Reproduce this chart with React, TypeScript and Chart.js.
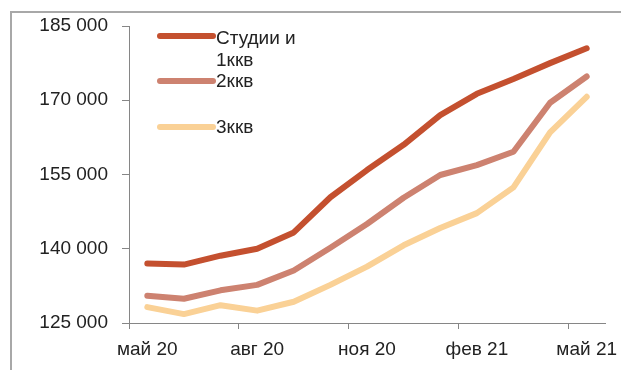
import React, { useEffect, useRef } from "react";
import { Chart, registerables } from "chart.js";

Chart.register(...registerables);

const months = [
  "май 20", "июн 20", "июл 20", "авг 20", "сен 20", "окт 20", "ноя 20",
  "дек 20", "янв 21", "фев 21", "мар 21", "апр 21", "май 21",
];

const studio1k = [137000, 136800, 138600, 140000, 143300, 150400, 155900, 161000, 167000, 171300, 174300, 177500, 180500];
const twoRoom = [130500, 129900, 131600, 132700, 135600, 140200, 145000, 150300, 154900, 156900, 159600, 169500, 174800];
const threeRoom = [128200, 126800, 128600, 127500, 129300, 132700, 136400, 140700, 144200, 147200, 152400, 163500, 170700];

const seriesNames = ["Студии и 1ккв", "2ккв", "3ккв"];
const legendLines = [["Студии и", "1ккв"], ["2ккв"], ["3ккв"]];
const seriesColors = ["#C4502F", "#CD8270", "#FAD196"];

const yMin = 125000;
const yMax = 185000;
const yStep = 15000;

const FONT = "'Liberation Sans', Arial, sans-serif";
const AXIS = "#868686";
const TEXT = "#222222";

const fmt = (v: number) => String(v).replace(/\B(?=(\d{3})+(?!\d))/g, " ");

const legendPlugin = {
  id: "customLegend",
  afterDraw(chart: any) {
    const ctx = chart.ctx;
    const lineY = [36, 81, 127];
    const textY = [[39, 61], [82], [128]];
    ctx.save();
    ctx.font = `19px ${FONT}`;
    ctx.fillStyle = TEXT;
    ctx.textBaseline = "middle";
    ctx.textAlign = "left";
    chart.data.datasets.forEach((ds: any, i: number) => {
      ctx.strokeStyle = ds.borderColor;
      ctx.lineWidth = 6;
      ctx.lineCap = "round";
      ctx.beginPath();
      ctx.moveTo(160, lineY[i]);
      ctx.lineTo(213, lineY[i]);
      ctx.stroke();
      legendLines[i].forEach((t, j) => {
        ctx.fillText(t, 216, textY[i][j]);
      });
    });
    ctx.restore();
  },
};

export default function App() {
  const ref = useRef<HTMLCanvasElement | null>(null);

  useEffect(() => {
    if (!ref.current) return;
    const data = [studio1k, twoRoom, threeRoom];
    const chart = new Chart(ref.current, {
      type: "line",
      data: {
        labels: months,
        datasets: data.map((d, i) => ({
          label: seriesNames[i],
          data: d,
          borderColor: seriesColors[i],
          backgroundColor: seriesColors[i],
          borderWidth: 6,
          pointRadius: 0,
          tension: 0,
          borderCapStyle: "round" as const,
          borderJoinStyle: "round" as const,
          fill: false,
        })),
      },
      options: {
        animation: false,
        responsive: false,
        devicePixelRatio: 1,
        layout: { padding: { top: 26, right: 16, left: 0, bottom: 0 } },
        plugins: {
          legend: { display: false },
          tooltip: { enabled: false },
        },
        scales: {
          x: {
            type: "category",
            offset: true,
            grid: {
              offset: true,
              drawOnChartArea: false,
              drawTicks: true,
              tickLength: 6,
              color: (c: any) => (c.index % 3 === 0 ? AXIS : "rgba(0,0,0,0)"),
            },
            border: { color: AXIS, width: 1 },
            ticks: {
              autoSkip: false,
              maxRotation: 0,
              minRotation: 0,
              padding: 9,
              color: TEXT,
              font: { size: 19, family: FONT },
              callback: (_v: any, i: number) => (i % 3 === 0 ? months[i] : ""),
            },
            afterFit: (s: any) => {
              s.height = 47;
              s.paddingLeft = 0;
              s.paddingRight = 0;
            },
          },
          y: {
            min: yMin,
            max: yMax,
            grid: {
              drawOnChartArea: false,
              drawTicks: true,
              tickLength: 7,
              color: AXIS,
            },
            border: { color: AXIS, width: 1 },
            ticks: {
              stepSize: yStep,
              padding: 14,
              color: TEXT,
              font: { size: 19, family: FONT },
              callback: (v: any) => fmt(Number(v)),
            },
            afterFit: (s: any) => {
              s.width = 129;
              s.paddingTop = 0;
              s.paddingBottom = 0;
            },
          },
        },
      },
      plugins: [legendPlugin],
    });
    return () => chart.destroy();
  }, []);

  return (
    <div
      style={{
        position: "absolute",
        left: 0,
        top: 0,
        width: 621,
        height: 370,
        background: "#fff",
        overflow: "hidden",
      }}
    >
      <div
        style={{
          position: "absolute",
          left: 10,
          top: 11,
          width: 640,
          height: 400,
          borderTop: "2px solid #a8a8a8",
          borderLeft: "2px solid #a8a8a8",
        }}
      />
      <canvas
        ref={ref}
        width={621}
        height={370}
        style={{ position: "absolute", left: 0, top: 0, width: 621, height: 370 }}
      />
    </div>
  );
}
